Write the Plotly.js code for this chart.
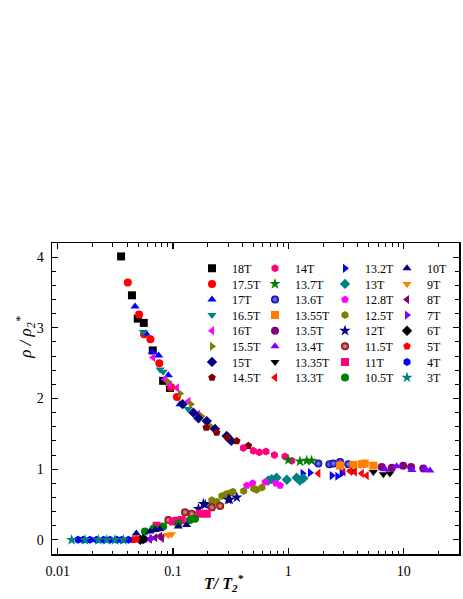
<!DOCTYPE html>
<html>
<head>
<meta charset="utf-8">
<script src="https://cdn.plot.ly/plotly-3.0.1.min.js"></script>
<style>
  html, body { margin: 0; padding: 0; background: #fff; }
  #grafica { width: 463px; height: 599px; }
</style>
</head>
<body>
<div id="grafica"></div>
<script>
// Campos (orden de la leyenda, por columnas)
const campos = ["18T", "17.5T", "17T", "16.5T", "16T", "15.5T", "15T", "14.5T",
                "14T", "13.7T", "13.6T", "13.55T", "13.5T", "13.4T", "13.35T", "13.3T",
                "13.2T", "13T", "12.8T", "12.5T", "12T", "11.5T", "11T", "10.5T",
                "10T", "9T", "8T", "7T", "6T", "5T", "4T", "3T"];

// Datos: T/T2* (x) y rho/rho2* (y)
const x18 = [0.0354, 0.044, 0.0494, 0.0557, 0.0667, 0.082, 0.094];
const y18 = [4.01, 3.46, 3.13, 3.07, 2.68, 2.25, 2.15];
const x175 = [0.0405, 0.0507, 0.0561, 0.0636, 0.076, 0.096, 0.108];
const y175 = [3.64, 3.19, 2.91, 2.84, 2.50, 2.16, 2.02];
const x17 = [0.0468, 0.0583, 0.066, 0.075, 0.091, 0.115];
const y17 = [3.30, 2.92, 2.66, 2.61, 2.33, 1.92];
const x165 = [0.0552, 0.0772, 0.082, 0.135];
const y165 = [2.94, 2.41, 2.38, 1.85];
const x16 = [0.067, 0.085, 0.094, 0.108, 0.136, 0.165];
const y16 = [2.58, 2.27, 2.19, 2.15, 1.96, 1.78];
const x155 = [0.09, 0.115, 0.143, 0.177, 0.21];
const y155 = [2.24, 2.07, 1.92, 1.75, 1.61];
const x15 = [0.121, 0.15, 0.166, 0.196, 0.231, 0.292, 0.32];
const y15 = [1.92, 1.80, 1.72, 1.68, 1.57, 1.47, 1.40];
const x145 = [0.194, 0.239, 0.296, 0.357, 0.45];
const y145 = [1.59, 1.52, 1.45, 1.40, 1.33];
const x14 = [0.407, 0.497, 0.56, 0.64, 0.757, 0.935, 1.07];
const y14 = [1.30, 1.26, 1.24, 1.25, 1.20, 1.18, 1.12];
const x137 = [1.0, 1.26, 1.44, 1.59];
const y137 = [1.13, 1.11, 1.12, 1.12];
const x136 = [1.82, 2.27, 2.46, 2.81, 3.31];
const y136 = [1.08, 1.07, 1.08, 1.10, 1.07];
const x1355 = [2.81, 3.66, 4.33, 4.6, 5.46];
const y1355 = [1.05, 1.06, 1.07, 1.08, 1.05];
const x135 = [6.45, 7.9, 9.9, 11.6, 14.8];
const y135 = [1.03, 1.02, 1.05, 1.03, 1.01];
const x134 = [6.9, 8.7, 11.8, 15.3, 16.9];
const y134 = [1.00, 1.04, 0.99, 1.01, 0.98];
const x1335 = [3.55, 5.46, 6.67, 7.6];
const y1335 = [0.97, 0.96, 0.93, 0.94];
const x133 = [1.82, 3.0, 3.43, 3.78, 4.33, 4.78];
const y133 = [0.94, 0.96, 0.97, 0.96, 0.94, 0.91];
const x132 = [1.33, 1.54, 2.38, 2.66, 2.9];
const y132 = [0.94, 0.95, 0.91, 0.90, 0.94];
const x13 = [0.67, 0.718, 0.79, 0.97, 1.18, 1.26, 1.35];
const y13 = [0.84, 0.86, 0.88, 0.85, 0.88, 0.84, 0.87];
const x128 = [0.436, 0.49, 0.63, 0.78, 0.85];
const y128 = [0.77, 0.80, 0.82, 0.80, 0.77];
const x125 = [0.217, 0.24, 0.265, 0.29, 0.31, 0.33, 0.41, 0.50, 0.53, 0.59];
const y125 = [0.56, 0.54, 0.62, 0.65, 0.66, 0.68, 0.69, 0.725, 0.71, 0.74];
const x12 = [0.166, 0.183, 0.19, 0.30, 0.31, 0.357];
const y12 = [0.44, 0.51, 0.50, 0.57, 0.57, 0.60];
const x115 = [0.091, 0.127, 0.145, 0.217, 0.256];
const y115 = [0.28, 0.39, 0.37, 0.46, 0.48];
const x11 = [0.072, 0.1, 0.108, 0.119, 0.171, 0.196];
const y11 = [0.20, 0.26, 0.27, 0.28, 0.37, 0.37];
const x105 = [0.057, 0.068, 0.082, 0.111, 0.14, 0.155];
const y105 = [0.12, 0.16, 0.19, 0.23, 0.28, 0.30];
const x10 = [0.048, 0.063, 0.07, 0.077, 0.111, 0.131];
const y10 = [0.09, 0.12, 0.14, 0.15, 0.19, 0.21];
const x9 = [0.082, 0.091, 0.097];
const y9 = [0.06, 0.07, 0.08];
const x8 = [0.063, 0.07, 0.077, 0.08];
const y8 = [0.01, 0.03, 0.05, 0.02];
const x7 = [0.059, 0.065];
const y7 = [0.01, 0.02];
const x6 = [0.052, 0.055];
const y6 = [0.0, 0.01];
const x5 = [0.045, 0.048];
const y5 = [0.0, 0.01];
const x4 = [0.015, 0.0166, 0.019, 0.0217, 0.025, 0.0284, 0.0326, 0.0359, 0.041];
const y4 = [0, 0, 0, 0, 0, 0, 0, 0, 0];
const x3 = [0.0132, 0.0172, 0.0225, 0.0266, 0.0314, 0.037];
const y3 = [0, 0, 0, 0, 0, 0];

const datosX = [x18, x175, x17, x165, x16, x155, x15, x145, x14, x137, x136, x1355, x135, x134, x1335, x133,
                x132, x13, x128, x125, x12, x115, x11, x105, x10, x9, x8, x7, x6, x5, x4, x3];
const datosY = [y18, y175, y17, y165, y16, y155, y15, y145, y14, y137, y136, y1355, y135, y134, y1335, y133,
                y132, y13, y128, y125, y12, y115, y11, y105, y10, y9, y8, y7, y6, y5, y4, y3];

// Ejes
const xTickVals = [0.01, 0.1, 1, 10];
const xTickText = ["0.01", "0.1", "1", "10"];
const yTickVals = [0, 1, 2, 3, 4];

// Estilo de cada serie
const simbolos = ["square", "circle", "triangle-up", "triangle-down", "triangle-left", "triangle-right", "diamond", "pentagon",
                  "hexagon", "star", "circle", "square", "circle", "triangle-up", "triangle-down", "triangle-left",
                  "triangle-right", "diamond", "pentagon", "hexagon", "star", "circle", "square", "circle",
                  "triangle-up", "triangle-down", "triangle-left", "triangle-right", "diamond", "pentagon", "hexagon", "star"];
const colores = ["#000000", "#ff0000", "#0000ff", "#008080", "#ff00ff", "#808000", "#000080", "#800000",
                 "#ff0080", "#008000", "#000099", "#ff8000", "#800080", "#8000ff", "#000000", "#ff0000",
                 "#0000ff", "#008080", "#ff00ff", "#808000", "#000080", "#800000", "#ff0080", "#008000",
                 "#000080", "#ff8000", "#800080", "#8000ff", "#000000", "#ff0000", "#0000ff", "#008080"];
// simbolos "esfera": brillo en el centro
const esferas = { "13.6T": "#8c8cff", "11.5T": "#e0a0a0" };

const fuente = "Liberation Serif, Times New Roman, serif";

// posicion (px) del simbolo en cada columna y de la primera fila de la leyenda
const colX = [212, 275, 345, 407];
const fila0 = 268.3, pasoFila = 15.6;

const trazas = campos.map((nombre, i) => {
    const marker = {
        symbol: simbolos[i], color: colores[i],
        size: simbolos[i] === "star" ? 8.5 : 8, line: { width: 0 }
    };
    if (esferas[nombre]) marker.gradient = { type: "radial", color: esferas[nombre] };
    return {
        x: datosX[i], y: datosY[i], type: "scatter", mode: "markers", name: nombre,
        marker, showlegend: true, legend: i === 0 ? "legend" : "legend" + (i + 1)
    };
});

const ejeComun = {
    showline: true, linecolor: "#000", linewidth: 1.5, mirror: "ticks",
    ticks: "inside", ticklen: 6, tickwidth: 1.2, tickcolor: "#000",
    showgrid: false, zeroline: false, ticklabelstandoff: 4,
    tickfont: { family: fuente, size: 14, color: "#000" }
};

const layout = {
    width: 463, height: 599,
    margin: { l: 52, r: 4, t: 243, b: 45 },
    paper_bgcolor: "#fff", plot_bgcolor: "#fff",
    showlegend: true,
    xaxis: Object.assign({}, ejeComun, {
        type: "log", range: [-2.05, 1.48],
        tickvals: xTickVals, ticktext: xTickText,
        minor: { ticks: "inside", ticklen: 3.5, tickwidth: 1, tickcolor: "#000", dtick: "D1" }
    }),
    yaxis: Object.assign({}, ejeComun, {
        range: [-0.2, 4.2], tickvals: yTickVals,
        minor: { ticks: "inside", ticklen: 4, tickwidth: 1, tickcolor: "#000", dtick: 0.2 }
    }),
    annotations: [
        { xref: "paper", yref: "paper", x: 0.4226, y: -0.093, xanchor: "center", yanchor: "middle", showarrow: false,
          text: "<b><i>T/ T<sub>2</sub><sup>*</sup></i></b>", font: { family: fuente, size: 16, color: "#000" } },
        { xref: "paper", yref: "paper", x: -0.064, y: 0.698, xanchor: "center", yanchor: "middle", showarrow: false, textangle: -90,
          text: "<i>ρ / ρ<sub>2</sub><sup>*</sup></i>", font: { family: fuente, size: 17, color: "#000" } }
    ]
};

// Una leyenda por serie, colocada en su celda (4 columnas x 8 filas)
campos.forEach((nombre, i) => {
    const col = Math.floor(i / 8), fila = i % 8;
    const py = fila0 + pasoFila * fila;
    layout[i === 0 ? "legend" : "legend" + (i + 1)] = {
        x: (colX[col] - 20 - 52) / 407, xanchor: "left",
        y: (554 - py) / 311, yanchor: "middle",
        bgcolor: "rgba(0,0,0,0)", borderwidth: 0,
        font: { family: fuente, size: 12, color: "#000" }
    };
});

Plotly.newPlot("grafica", trazas, layout, { displayModeBar: false, staticPlot: true });
</script>
</body>
</html>
